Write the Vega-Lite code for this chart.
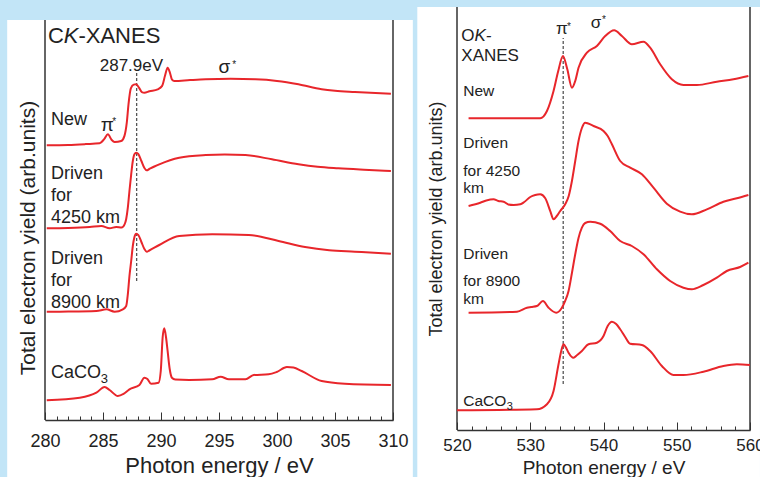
{
  "$schema": "https://vega.github.io/schema/vega-lite/v6.json",
  "background": "#c2e5f7",
  "padding": {"left": 7, "top": 6, "right": -5, "bottom": 0},
  "spacing": 4,
  "config": {
    "view": {"stroke": null},
    "font": "Liberation Sans",
    "axis": {"grid": false, "labelColor": "#222", "titleColor": "#222", "titleFontWeight": "normal", "domainColor": "#333", "tickColor": "#333", "labelFont": "Liberation Sans", "titleFont": "Liberation Sans"},
    "text": {"font": "Liberation Sans", "color": "#222"}
  },
  "datasets": {
    "cx": [
      {"s":"New","E":280.15,"v":66.51},{"s":"New","E":282.0,"v":66.6},{"s":"New","E":283.5,"v":66.8},{"s":"New","E":284.71,"v":67.0},{"s":"New","E":285.1,"v":68.0},{"s":"New","E":285.42,"v":69.18},{"s":"New","E":285.75,"v":67.8},{"s":"New","E":286.0,"v":67.31},{"s":"New","E":286.57,"v":67.55},{"s":"New","E":286.85,"v":68.8},{"s":"New","E":287.05,"v":71.99},{"s":"New","E":287.2,"v":76.5},{"s":"New","E":287.4,"v":80.3},{"s":"New","E":287.65,"v":81.2},{"s":"New","E":287.86,"v":81.28},{"s":"New","E":288.1,"v":80.5},{"s":"New","E":288.35,"v":79.4},{"s":"New","E":288.57,"v":79.25},{"s":"New","E":289.0,"v":79.6},{"s":"New","E":289.71,"v":80.07},{"s":"New","E":290.1,"v":80.9},{"s":"New","E":290.35,"v":83.4},{"s":"New","E":290.57,"v":85.3},{"s":"New","E":290.78,"v":84.0},{"s":"New","E":290.95,"v":82.4},{"s":"New","E":291.14,"v":82.08},{"s":"New","E":292.5,"v":82.3},{"s":"New","E":293.86,"v":82.49},{"s":"New","E":296.0,"v":82.6},{"s":"New","E":298.14,"v":82.49},{"s":"New","E":300.0,"v":82.1},{"s":"New","E":301.85,"v":81.28},{"s":"New","E":303.85,"v":80.07},{"s":"New","E":305.0,"v":79.7},{"s":"New","E":306.71,"v":79.42},{"s":"New","E":309.82,"v":79.01},
      {"s":"4250","E":280.15,"v":46.42},{"s":"4250","E":282.0,"v":46.5},{"s":"4250","E":283.86,"v":46.73},{"s":"4250","E":284.86,"v":46.97},{"s":"4250","E":285.57,"v":46.42},{"s":"4250","E":286.14,"v":46.73},{"s":"4250","E":286.6,"v":46.6},{"s":"4250","E":286.86,"v":47.38},{"s":"4250","E":287.0,"v":48.67},{"s":"4250","E":287.14,"v":51.4},{"s":"4250","E":287.28,"v":55.45},{"s":"4250","E":287.43,"v":59.49},{"s":"4250","E":287.57,"v":62.71},{"s":"4250","E":287.71,"v":64.36},{"s":"4250","E":287.86,"v":64.72},{"s":"4250","E":288.05,"v":64.36},{"s":"4250","E":288.31,"v":62.71},{"s":"4250","E":288.57,"v":61.02},{"s":"4250","E":288.77,"v":60.46},{"s":"4250","E":288.99,"v":60.77},{"s":"4250","E":289.43,"v":61.38},{"s":"4250","E":289.85,"v":61.91},{"s":"4250","E":291.57,"v":63.51},{"s":"4250","E":293.86,"v":64.16},{"s":"4250","E":295.5,"v":64.3},{"s":"4250","E":297.28,"v":64.16},{"s":"4250","E":299.56,"v":63.12},{"s":"4250","E":301.85,"v":61.91},{"s":"4250","E":303.5,"v":61.3},{"s":"4250","E":305.28,"v":60.94},{"s":"4250","E":307.5,"v":60.6},{"s":"4250","E":309.82,"v":60.29},
      {"s":"8900","E":280.15,"v":26.22},{"s":"8900","E":282.0,"v":26.25},{"s":"8900","E":284.43,"v":26.39},{"s":"8900","E":285.29,"v":26.8},{"s":"8900","E":286.0,"v":26.22},{"s":"8900","E":286.71,"v":26.8},{"s":"8900","E":287.0,"v":27.6},{"s":"8900","E":287.14,"v":30.44},{"s":"8900","E":287.28,"v":34.87},{"s":"8900","E":287.43,"v":38.5},{"s":"8900","E":287.57,"v":42.13},{"s":"8900","E":287.71,"v":44.31},{"s":"8900","E":287.86,"v":45.11},{"s":"8900","E":288.05,"v":44.79},{"s":"8900","E":288.31,"v":43.1},{"s":"8900","E":288.57,"v":41.4},{"s":"8900","E":288.77,"v":40.75},{"s":"8900","E":288.99,"v":41.04},{"s":"8900","E":289.85,"v":42.37},{"s":"8900","E":291.57,"v":44.55},{"s":"8900","E":294.42,"v":44.96},{"s":"8900","E":297.57,"v":44.79},{"s":"8900","E":300.14,"v":43.34},{"s":"8900","E":302.42,"v":41.89},{"s":"8900","E":304.5,"v":41.1},{"s":"8900","E":306.71,"v":40.75},{"s":"8900","E":309.82,"v":40.27},
      {"s":"CaCO3","E":280.15,"v":4.77},{"s":"CaCO3","E":283.0,"v":5.4},{"s":"CaCO3","E":284.43,"v":6.61},{"s":"CaCO3","E":285.14,"v":7.99},{"s":"CaCO3","E":285.57,"v":7.26},{"s":"CaCO3","E":286.28,"v":5.81},{"s":"CaCO3","E":286.77,"v":6.3},{"s":"CaCO3","E":287.28,"v":7.43},{"s":"CaCO3","E":288.14,"v":8.47},{"s":"CaCO3","E":288.57,"v":10.24},{"s":"CaCO3","E":288.83,"v":9.93},{"s":"CaCO3","E":289.14,"v":8.79},{"s":"CaCO3","E":289.79,"v":9.03},{"s":"CaCO3","E":289.98,"v":11.86},{"s":"CaCO3","E":290.14,"v":19.93},{"s":"CaCO3","E":290.28,"v":22.2},{"s":"CaCO3","E":290.43,"v":20.1},{"s":"CaCO3","E":290.57,"v":16.71},{"s":"CaCO3","E":290.75,"v":12.35},{"s":"CaCO3","E":290.94,"v":10.24},{"s":"CaCO3","E":291.23,"v":9.81},{"s":"CaCO3","E":292.43,"v":9.69},{"s":"CaCO3","E":294.42,"v":9.85},{"s":"CaCO3","E":295.14,"v":10.48},{"s":"CaCO3","E":295.85,"v":9.85},{"s":"CaCO3","E":297.28,"v":9.85},{"s":"CaCO3","E":297.99,"v":10.9},{"s":"CaCO3","E":299.28,"v":11.07},{"s":"CaCO3","E":299.97,"v":11.62},{"s":"CaCO3","E":300.85,"v":12.83},{"s":"CaCO3","E":301.42,"v":12.71},{"s":"CaCO3","E":302.13,"v":11.86},{"s":"CaCO3","E":303.85,"v":9.44},{"s":"CaCO3","E":305.85,"v":8.79},{"s":"CaCO3","E":309.82,"v":8.47}
    ],
    "ox": [
      {"s":"New","E":521.58,"v":73.69},{"s":"New","E":531.36,"v":73.69},{"s":"New","E":532.28,"v":75.41},{"s":"New","E":533.18,"v":80.14},{"s":"New","E":533.82,"v":84.87},{"s":"New","E":534.46,"v":88.42},{"s":"New","E":535.05,"v":85.34},{"s":"New","E":535.69,"v":80.92},{"s":"New","E":536.14,"v":82.51},{"s":"New","E":536.59,"v":85.65},{"s":"New","E":537.74,"v":89.2},{"s":"New","E":539.1,"v":90.78},{"s":"New","E":540.23,"v":93.14},{"s":"New","E":541.46,"v":94.49},{"s":"New","E":542.51,"v":93.14},{"s":"New","E":543.87,"v":91.18},{"s":"New","E":545.46,"v":91.8},{"s":"New","E":546.37,"v":90.38},{"s":"New","E":547.74,"v":86.45},{"s":"New","E":549.33,"v":82.91},{"s":"New","E":550.91,"v":81.56},{"s":"New","E":552.74,"v":81.56},{"s":"New","E":555.47,"v":82.34},{"s":"New","E":557.74,"v":82.91},{"s":"New","E":559.78,"v":83.69},
      {"s":"4250","E":521.58,"v":52.96},{"s":"4250","E":523.18,"v":53.74},{"s":"4250","E":524.0,"v":54.26},{"s":"4250","E":524.99,"v":54.54},{"s":"4250","E":525.63,"v":54.14},{"s":"4250","E":526.36,"v":53.97},{"s":"4250","E":527.0,"v":53.31},{"s":"4250","E":527.72,"v":53.19},{"s":"4250","E":528.64,"v":53.36},{"s":"4250","E":529.18,"v":53.9},{"s":"4250","E":530.0,"v":55.08},{"s":"4250","E":530.68,"v":55.56},{"s":"4250","E":531.36,"v":55.72},{"s":"4250","E":532.05,"v":54.78},{"s":"4250","E":532.73,"v":51.77},{"s":"4250","E":533.18,"v":49.81},{"s":"4250","E":533.62,"v":50.59},{"s":"4250","E":534.09,"v":51.77},{"s":"4250","E":534.77,"v":53.36},{"s":"4250","E":535.25,"v":55.32},{"s":"4250","E":535.69,"v":58.87},{"s":"4250","E":536.14,"v":63.59},{"s":"4250","E":536.59,"v":68.32},{"s":"4250","E":537.05,"v":71.39},{"s":"4250","E":537.5,"v":72.65},{"s":"4250","E":537.91,"v":72.46},{"s":"4250","E":538.64,"v":71.87},{"s":"4250","E":540.0,"v":70.69},{"s":"4250","E":540.57,"v":69.5},{"s":"4250","E":541.15,"v":67.54},{"s":"4250","E":542.28,"v":63.59},{"s":"4250","E":543.64,"v":62.01},{"s":"4250","E":545.24,"v":60.45},{"s":"4250","E":546.82,"v":57.28},{"s":"4250","E":548.65,"v":53.5},{"s":"4250","E":550.46,"v":51.61},{"s":"4250","E":552.06,"v":50.99},{"s":"4250","E":554.11,"v":52.17},{"s":"4250","E":556.37,"v":53.97},{"s":"4250","E":558.2,"v":54.78},{"s":"4250","E":559.78,"v":55.56},
      {"s":"8900","E":521.58,"v":27.73},{"s":"8900","E":528.19,"v":27.97},{"s":"8900","E":529.55,"v":28.91},{"s":"8900","E":530.14,"v":29.08},{"s":"8900","E":530.91,"v":29.31},{"s":"8900","E":531.73,"v":30.5},{"s":"8900","E":532.5,"v":28.91},{"s":"8900","E":533.55,"v":27.73},{"s":"8900","E":534.32,"v":28.91},{"s":"8900","E":534.77,"v":30.5},{"s":"8900","E":535.23,"v":32.86},{"s":"8900","E":535.69,"v":37.12},{"s":"8900","E":536.14,"v":41.54},{"s":"8900","E":536.59,"v":45.39},{"s":"8900","E":537.05,"v":47.83},{"s":"8900","E":537.5,"v":48.94},{"s":"8900","E":538.19,"v":49.24},{"s":"8900","E":539.55,"v":48.77},{"s":"8900","E":540.91,"v":47.04},{"s":"8900","E":542.28,"v":44.68},{"s":"8900","E":543.87,"v":43.5},{"s":"8900","E":545.46,"v":41.54},{"s":"8900","E":547.29,"v":37.99},{"s":"8900","E":549.1,"v":35.22},{"s":"8900","E":550.91,"v":33.64},{"s":"8900","E":552.06,"v":33.26},{"s":"8900","E":553.64,"v":34.28},{"s":"8900","E":555.47,"v":36.0},{"s":"8900","E":556.83,"v":37.59},{"s":"8900","E":558.65,"v":38.53},{"s":"8900","E":559.78,"v":39.55},
      {"s":"CaCO3","E":520.0,"v":4.66},{"s":"CaCO3","E":530.91,"v":4.89},{"s":"CaCO3","E":532.28,"v":6.08},{"s":"CaCO3","E":533.18,"v":9.22},{"s":"CaCO3","E":533.86,"v":15.53},{"s":"CaCO3","E":534.23,"v":18.68},{"s":"CaCO3","E":534.54,"v":20.26},{"s":"CaCO3","E":534.91,"v":19.39},{"s":"CaCO3","E":535.23,"v":18.27},{"s":"CaCO3","E":535.91,"v":17.09},{"s":"CaCO3","E":536.41,"v":17.73},{"s":"CaCO3","E":537.05,"v":18.68},{"s":"CaCO3","E":537.95,"v":20.26},{"s":"CaCO3","E":539.1,"v":20.64},{"s":"CaCO3","E":540.0,"v":22.22},{"s":"CaCO3","E":540.57,"v":24.59},{"s":"CaCO3","E":541.15,"v":25.6},{"s":"CaCO3","E":541.73,"v":25.06},{"s":"CaCO3","E":542.28,"v":23.81},{"s":"CaCO3","E":542.96,"v":21.99},{"s":"CaCO3","E":543.64,"v":20.4},{"s":"CaCO3","E":545.24,"v":20.09},{"s":"CaCO3","E":546.37,"v":18.68},{"s":"CaCO3","E":547.97,"v":15.13},{"s":"CaCO3","E":549.55,"v":13.0},{"s":"CaCO3","E":550.91,"v":13.0},{"s":"CaCO3","E":553.64,"v":13.78},{"s":"CaCO3","E":556.37,"v":15.13},{"s":"CaCO3","E":558.2,"v":15.53},{"s":"CaCO3","E":560.0,"v":15.37}
    ],
    "ctext": [
      {"k":"head","t":"C","E":280.26,"v":91.28},
      {"k":"headIt","t":"K","E":281.62,"v":91.28},
      {"k":"head","t":"-XANES","E":282.88,"v":91.28},
      {"k":"note","t":"287.9eV","E":287.45,"v":84.5},
      {"k":"greek","t":"σ","E":295.47,"v":84.02},
      {"k":"sup","t":"*","E":296.15,"v":85.23},
      {"k":"greek","t":"π","E":285.36,"v":69.98},
      {"k":"sup","t":"*","E":285.8,"v":71.43},
      {"k":"label","t":"New","E":280.51,"v":71.43},
      {"k":"label","t":"Driven","E":280.51,"v":58.35},
      {"k":"label","t":"for","E":280.51,"v":53.03},
      {"k":"label","t":"4250 km","E":280.51,"v":47.7},
      {"k":"label","t":"Driven","E":280.51,"v":37.77},
      {"k":"label","t":"for","E":280.51,"v":32.45},
      {"k":"label","t":"8900 km","E":280.51,"v":27.12},
      {"k":"label","t":"CaCO","E":280.51,"v":10.17},
      {"k":"sub","t":"3","E":284.8,"v":8.96}
    ],
    "otext": [
      {"k":"head","t":"O","E":520.59,"v":91.96},
      {"k":"headIt","t":"K-","E":522.39,"v":91.96},
      {"k":"head","t":"XANES","E":520.59,"v":87.23},
      {"k":"greek","t":"π","E":534.32,"v":93.6},
      {"k":"sup","t":"*","E":535.0,"v":94.6},
      {"k":"greek","t":"σ","E":538.98,"v":95.04},
      {"k":"sup","t":"*","E":539.78,"v":96.2},
      {"k":"label","t":"New","E":520.86,"v":78.96},
      {"k":"label","t":"Driven","E":520.86,"v":66.67},
      {"k":"label","t":"for 4250","E":520.86,"v":60.05},
      {"k":"label","t":"km","E":520.86,"v":56.03},
      {"k":"label","t":"Driven","E":520.86,"v":40.43},
      {"k":"label","t":"for 8900","E":520.86,"v":34.04},
      {"k":"label","t":"km","E":520.86,"v":29.79},
      {"k":"label","t":"CaCO","E":520.86,"v":5.67},
      {"k":"sub","t":"3","E":526.8,"v":4.73}
    ]
  },
  "hconcat": [
    {
      "width": 348,
      "height": 413,
      "resolve": {"axis": {"x": "independent", "y": "independent"}},
      "layer": [
        {"data": {"values": [{}]}, "mark": {"type": "rect", "color": "white", "clip": false},
         "encoding": {
           "x": {"datum": 276.74, "type": "quantitative", "scale": {"domain": [280, 310], "nice": false, "zero": false}, "axis": null},
           "x2": {"datum": 311.71},
           "y": {"datum": -14.04, "type": "quantitative", "scale": {"domain": [0, 100], "nice": false, "zero": false}, "axis": null},
           "y2": {"datum": 96.85}
         }},
        {"data": {"values": [{}]}, "mark": {"type": "rule", "color": "#333", "strokeWidth": 1.5},
         "encoding": {
           "x": {"datum": 280, "type": "quantitative", "axis": {"orient": "bottom", "zindex": 2, "values": [281,282,283,284,286,287,288,289,291,292,293,294,296,297,298,299,301,302,303,304,306,307,308,309], "labels": false, "domain": false, "tickSize": -4, "tickWidth": 1, "title": null}},
           "y": {"datum": 0, "type": "quantitative", "axis": null},
           "y2": {"datum": 96.85}
         }},
        {"data": {"values": [{}]}, "mark": {"type": "rule", "color": "#333", "strokeWidth": 1.5},
         "encoding": {
           "x": {"datum": 310, "type": "quantitative", "axis": null},
           "y": {"datum": 0, "type": "quantitative", "axis": null},
           "y2": {"datum": 96.85}
         }},
        {"data": {"values": [{}]}, "mark": {"type": "rule", "color": "#555", "strokeWidth": 1.3, "strokeDash": [3, 2]},
         "encoding": {
           "x": {"datum": 287.9, "type": "quantitative", "axis": null},
           "y": {"datum": 33.66, "type": "quantitative", "axis": null},
           "y2": {"datum": 84.0}
         }},
        {"data": {"name": "cx"}, "mark": {"type": "line", "color": "#e8262b", "strokeWidth": 2, "interpolate": "monotone"},
         "encoding": {
           "x": {"field": "E", "type": "quantitative", "axis": {"orient": "bottom", "zindex": 2, "values": [280, 285, 290, 295, 300, 305, 310], "tickSize": -8, "tickWidth": 1, "domainWidth": 1.5, "labelFontSize": 18, "labelPadding": 20.7, "labelFlush": false, "title": "Photon energy / eV", "titleFontSize": 22, "titlePadding": 4.7}},
           "y": {"field": "v", "type": "quantitative", "axis": {"zindex": 2, "title": "Total electron yield (arb.units)", "labels": false, "ticks": false, "domainOpacity": 0, "titleFontSize": 21, "titlePadding": 7, "titleY": 230.5}},
           "detail": {"field": "s"}
         }},
        {"data": {"name": "ctext"}, "transform": [{"filter": "datum.k == 'head'"}], "mark": {"type": "text", "align": "left", "baseline": "alphabetic", "fontSize": 22},
         "encoding": {"x": {"field": "E", "type": "quantitative", "axis": null}, "y": {"field": "v", "type": "quantitative", "axis": null}, "text": {"field": "t"}}},
        {"data": {"name": "ctext"}, "transform": [{"filter": "datum.k == 'headIt'"}], "mark": {"type": "text", "align": "left", "baseline": "alphabetic", "fontSize": 22, "fontStyle": "italic"},
         "encoding": {"x": {"field": "E", "type": "quantitative", "axis": null}, "y": {"field": "v", "type": "quantitative", "axis": null}, "text": {"field": "t"}}},
        {"data": {"name": "ctext"}, "transform": [{"filter": "datum.k == 'note'"}], "mark": {"type": "text", "align": "center", "baseline": "alphabetic", "fontSize": 17},
         "encoding": {"x": {"field": "E", "type": "quantitative", "axis": null}, "y": {"field": "v", "type": "quantitative", "axis": null}, "text": {"field": "t"}}},
        {"data": {"name": "ctext"}, "transform": [{"filter": "datum.k == 'greek'"}], "mark": {"type": "text", "align": "center", "baseline": "alphabetic", "fontSize": 19},
         "encoding": {"x": {"field": "E", "type": "quantitative", "axis": null}, "y": {"field": "v", "type": "quantitative", "axis": null}, "text": {"field": "t"}}},
        {"data": {"name": "ctext"}, "transform": [{"filter": "datum.k == 'sup'"}], "mark": {"type": "text", "align": "left", "baseline": "alphabetic", "fontSize": 10},
         "encoding": {"x": {"field": "E", "type": "quantitative", "axis": null}, "y": {"field": "v", "type": "quantitative", "axis": null}, "text": {"field": "t"}}},
        {"data": {"name": "ctext"}, "transform": [{"filter": "datum.k == 'label'"}], "mark": {"type": "text", "align": "left", "baseline": "alphabetic", "fontSize": 18},
         "encoding": {"x": {"field": "E", "type": "quantitative", "axis": null}, "y": {"field": "v", "type": "quantitative", "axis": null}, "text": {"field": "t"}}},
        {"data": {"name": "ctext"}, "transform": [{"filter": "datum.k == 'sub'"}], "mark": {"type": "text", "align": "left", "baseline": "alphabetic", "fontSize": 13},
         "encoding": {"x": {"field": "E", "type": "quantitative", "axis": null}, "y": {"field": "v", "type": "quantitative", "axis": null}, "text": {"field": "t"}}}
      ]
    },
    {
      "width": 293,
      "height": 423,
      "resolve": {"axis": {"x": "independent", "y": "independent"}},
      "layer": [
        {"data": {"values": [{}]}, "mark": {"type": "rect", "color": "white", "clip": false},
         "encoding": {
           "x": {"datum": 514.58, "type": "quantitative", "scale": {"domain": [520, 560], "nice": false, "zero": false}, "axis": null},
           "x2": {"datum": 561.36},
           "y": {"datum": -11.35, "type": "quantitative", "scale": {"domain": [0, 100], "nice": false, "zero": false}, "axis": null},
           "y2": {"datum": 100}
         }},
        {"data": {"values": [{}]}, "mark": {"type": "rule", "color": "#333", "strokeWidth": 1.5},
         "encoding": {
           "x": {"datum": 520, "type": "quantitative", "axis": {"orient": "bottom", "zindex": 2, "values": [522,524,526,528,532,534,536,538,542,544,546,548,552,554,556,558], "labels": false, "domain": false, "tickSize": -4, "tickWidth": 1, "title": null}},
           "y": {"datum": 0, "type": "quantitative", "axis": null},
           "y2": {"datum": 100}
         }},
        {"data": {"values": [{}]}, "mark": {"type": "rule", "color": "#333", "strokeWidth": 1.5},
         "encoding": {
           "x": {"datum": 560, "type": "quantitative", "axis": null},
           "y": {"datum": 0, "type": "quantitative", "axis": null},
           "y2": {"datum": 100}
         }},
        {"data": {"values": [{}]}, "mark": {"type": "rule", "color": "#555", "strokeWidth": 1.3, "strokeDash": [3, 2]},
         "encoding": {
           "x": {"datum": 534.5, "type": "quantitative", "axis": null},
           "y": {"datum": 10.87, "type": "quantitative", "axis": null},
           "y2": {"datum": 92.7}
         }},
        {"data": {"name": "ox"}, "mark": {"type": "line", "color": "#e8262b", "strokeWidth": 2, "interpolate": "monotone"},
         "encoding": {
           "x": {"field": "E", "type": "quantitative", "axis": {"orient": "bottom", "zindex": 2, "values": [520, 530, 540, 550, 560], "tickSize": -8, "tickWidth": 1, "domainWidth": 1.5, "labelFontSize": 17, "labelPadding": 15.7, "labelFlush": false, "title": "Photon energy / eV", "titleFontSize": 19, "titlePadding": 5}},
           "y": {"field": "v", "type": "quantitative", "axis": {"zindex": 2, "title": "Total electron yield (arb.units)", "labels": false, "ticks": false, "domainOpacity": 0, "titleFontSize": 18, "titlePadding": 12}},
           "detail": {"field": "s"}
         }},
        {"data": {"name": "otext"}, "transform": [{"filter": "datum.k == 'head'"}], "mark": {"type": "text", "align": "left", "baseline": "alphabetic", "fontSize": 17},
         "encoding": {"x": {"field": "E", "type": "quantitative", "axis": null}, "y": {"field": "v", "type": "quantitative", "axis": null}, "text": {"field": "t"}}},
        {"data": {"name": "otext"}, "transform": [{"filter": "datum.k == 'headIt'"}], "mark": {"type": "text", "align": "left", "baseline": "alphabetic", "fontSize": 17, "fontStyle": "italic"},
         "encoding": {"x": {"field": "E", "type": "quantitative", "axis": null}, "y": {"field": "v", "type": "quantitative", "axis": null}, "text": {"field": "t"}}},
        {"data": {"name": "otext"}, "transform": [{"filter": "datum.k == 'greek'"}], "mark": {"type": "text", "align": "center", "baseline": "alphabetic", "fontSize": 17},
         "encoding": {"x": {"field": "E", "type": "quantitative", "axis": null}, "y": {"field": "v", "type": "quantitative", "axis": null}, "text": {"field": "t"}}},
        {"data": {"name": "otext"}, "transform": [{"filter": "datum.k == 'sup'"}], "mark": {"type": "text", "align": "left", "baseline": "alphabetic", "fontSize": 10},
         "encoding": {"x": {"field": "E", "type": "quantitative", "axis": null}, "y": {"field": "v", "type": "quantitative", "axis": null}, "text": {"field": "t"}}},
        {"data": {"name": "otext"}, "transform": [{"filter": "datum.k == 'label'"}], "mark": {"type": "text", "align": "left", "baseline": "alphabetic", "fontSize": 15.5},
         "encoding": {"x": {"field": "E", "type": "quantitative", "axis": null}, "y": {"field": "v", "type": "quantitative", "axis": null}, "text": {"field": "t"}}},
        {"data": {"name": "otext"}, "transform": [{"filter": "datum.k == 'sub'"}], "mark": {"type": "text", "align": "left", "baseline": "alphabetic", "fontSize": 11},
         "encoding": {"x": {"field": "E", "type": "quantitative", "axis": null}, "y": {"field": "v", "type": "quantitative", "axis": null}, "text": {"field": "t"}}}
      ]
    }
  ]
}
